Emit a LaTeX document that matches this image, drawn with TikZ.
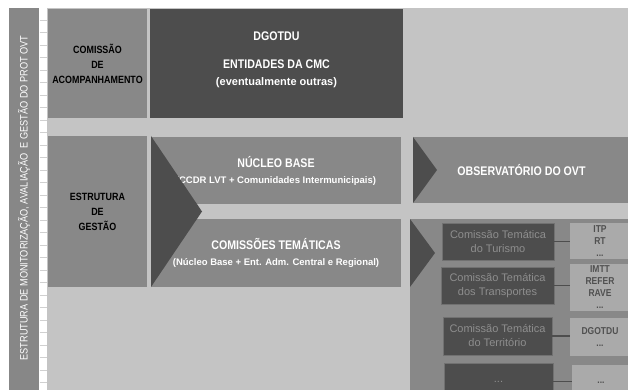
\documentclass[tikz,border=0pt]{standalone}
\usepackage{fontspec}
\setmainfont{Liberation Sans}[FakeStretch=0.85]
\newfontfamily\plainfont{Liberation Sans}
\usetikzlibrary{positioning}

\definecolor{bgGray}{HTML}{C4C4C4}
\definecolor{midGray}{HTML}{888888}
\definecolor{darkGray}{HTML}{4D4D4D}
\definecolor{paleGray}{HTML}{AAAAAA}
\definecolor{barGray}{HTML}{878787}
\definecolor{gridGray}{HTML}{D0D0D0}
\definecolor{tinyText}{HTML}{8E8E8E}
\definecolor{sideText}{HTML}{505050}

\newcommand{\subfont}{\plainfont\bfseries\fontsize{9.5}{11}\selectfont}

\tikzset{
  boxsize/.style 2 args={minimum width=#1pt, minimum height=#2pt},
  blk/.style={rectangle, inner sep=0pt, align=center},
  headbox/.style={blk, fill=midGray, text=black,
    font=\bfseries\fontsize{10.5}{15}\selectfont},
  mainbox/.style={blk, fill=midGray, text=white,
    font=\bfseries\fontsize{12.5}{16}\selectfont},
  darkbox/.style={blk, fill=darkGray, text=white,
    font=\bfseries\fontsize{12.5}{14}\selectfont},
  temabox/.style={blk, fill=darkGray, draw=darkGray!80!white, text=tinyText,
    font=\plainfont\fontsize{11}{14}\selectfont},
  entbox/.style={blk, fill=paleGray, text=sideText,
    font=\bfseries\fontsize{10}{12}\selectfont},
  link/.style={draw=darkGray, line width=1.6pt},
}

\begin{document}
\begin{tikzpicture}[x=1pt, y=-1pt]
  \useasboundingbox (0,0) rectangle (628,390);
  \clip (0,0) rectangle (628,390);

  % fundo
  \fill[white] (0,0) rectangle (628,390);
  \fill[bgGray] (47,8) rectangle (628,392);
  \fill[barGray] (9,8) rectangle (39,392);
  \foreach \y in {20,32.5,...,390}
    \draw[gridGray, line width=0.8pt] (39.5,\y) -- (46.5,\y);

  \node[rotate=90, text=white, font=\fontsize{10.8}{12}\selectfont] (estrut) at (24,198)
    {ESTRUTURA DE MONITORIZAÇÃO, AVALIAÇÃO \ E GESTÃO DO PROT OVT};

  % linha de cima
  \node[headbox, boxsize={99}{109}] (comAc) at (97.5,63.5)
    {COMISSÃO\\DE\\ACOMPANHAMENTO};
  \node[darkbox, boxsize={253}{109}] (dgotdu) at (276.5,63.5)
    {DGOTDU\\[14pt]ENTIDADES DA CMC\\[3pt]{\plainfont\bfseries\fontsize{11}{13}\selectfont(eventualmente outras)}\\[-5pt]};

  % estrutura de gestao
  \node[headbox, boxsize={99}{151}] (estGes) at (97.5,211.5)
    {ESTRUTURA\\DE\\GESTÃO};
  \node[mainbox, boxsize={250}{67}] (nucleo) at (276,170.5)
    {NÚCLEO BASE\\{\subfont(CCDR LVT + Comunidades Intermunicipais)}};
  \node[mainbox, boxsize={250}{68}] (comTem) at (276,253)
    {COMISSÕES TEMÁTICAS\\{\subfont(Núcleo Base + Ent. Adm. Central e Regional)}};
  \fill[darkGray] (151,136) -- (202,211.5) -- (151,287) -- cycle;

  % observatorio
  \node[mainbox, boxsize={217}{66}] (observ) at (521.5,170)
    {OBSERVATÓRIO DO OVT};
  \fill[darkGray] (413,137) -- (437,170) -- (413,203) -- cycle;

  % comissoes tematicas
  \fill[midGray] (410,219) rectangle (630,395);
  \fill[darkGray] (410,219) -- (435,253) -- (410,287) -- cycle;

  \node[temabox, boxsize={112}{37}] (tur) at (498,241.5)
    {Comissão Temática\\do Turismo};
  \node[temabox, boxsize={113}{37}] (trans) at (497.5,285.5)
    {Comissão Temática\\dos Transportes};
  \node[temabox, boxsize={109}{38}] (terr) at (497.5,336)
    {Comissão Temática\\do Território};
  \node[temabox, boxsize={109}{37}] (outra) at (498.5,381.5) {...};

  \node[entbox, boxsize={60}{36}] (itp) at (600,241) {ITP\\RT\\...};
  \node[entbox, boxsize={60}{47}] (imtt) at (600,287.5) {IMTT\\REFER\\RAVE\\...};
  \node[entbox, boxsize={60}{38}] (dgo) at (600,337) {DGOTDU\\...};
  \node[entbox, boxsize={58}{37}] (outraEnt) at (601,383) {...};

  \draw[link] (tur.east) -- (tur.east -| itp.west);
  \draw[link] (trans.east) -- (trans.east -| imtt.west);
  \draw[link] (terr.east) -- (terr.east -| dgo.west);
  \draw[link] (outra.east) -- (outra.east -| outraEnt.west);
\end{tikzpicture}
\end{document}
